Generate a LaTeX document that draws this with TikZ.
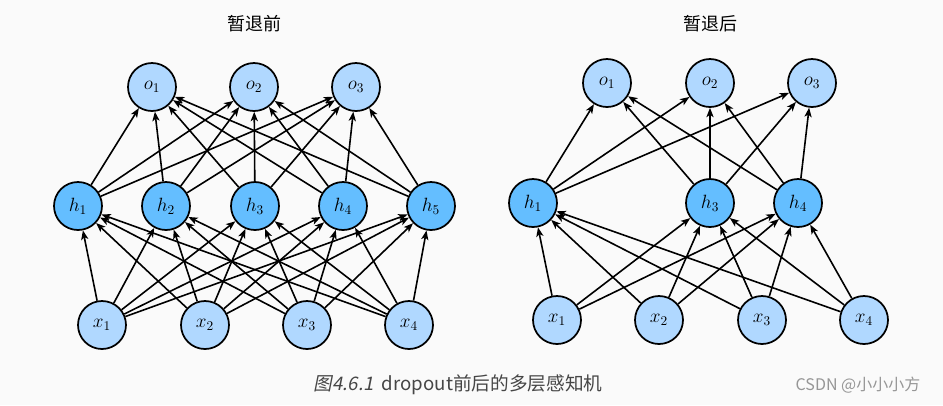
\documentclass[tikz,border=0pt]{standalone}
\usepackage{fontspec}
\usepackage{tikz}
\usetikzlibrary{arrows.meta}
\newfontfamily\cjk[AutoFakeSlant=0.2]{Noto Sans CJK SC}
\definecolor{bgcol}{RGB}{250,250,250}
\definecolor{iocol}{RGB}{176,216,255}
\definecolor{hidcol}{RGB}{100,190,255}
\definecolor{capcol}{RGB}{70,70,70}
\definecolor{markcol}{RGB}{150,150,150}

\begin{document}
\begin{tikzpicture}[x=0.75pt,y=0.75pt,yscale=-1,xscale=1,
  neuron/.style={circle,draw,line width=1.3pt,minimum size=36pt,inner sep=0pt,font=\Large},
  ioneuron/.style={neuron,fill=iocol},
  hidneuron/.style={neuron,fill=hidcol},
  conn/.style={line width=1.2pt,-{Stealth[length=7pt,width=5.4pt,inset=1.8pt]}},
  title/.style={font=\cjk\fontsize{13.5}{15}\selectfont}]
%set diagram size 943 x 405
\fill[bgcol] (0,0) rectangle (943,405);

% Text Node
\draw (254,24) node [title] (ltitle) {暂退前};
% Text Node
\draw (710,24) node [title] (rtitle) {暂退后};

%Shape: Circle, left net
\node [ioneuron] (lo1) at (152,87) {$o_1$};
\node [ioneuron] (lo2) at (254,87) {$o_2$};
\node [ioneuron] (lo3) at (356,87) {$o_3$};
\node [hidneuron] (lh1) at (78,206) {$h_1$};
\node [hidneuron] (lh2) at (166,206) {$h_2$};
\node [hidneuron] (lh3) at (255,206) {$h_3$};
\node [hidneuron] (lh4) at (343,206) {$h_4$};
\node [hidneuron] (lh5) at (431,206) {$h_5$};
\node [ioneuron] (lx1) at (102,325) {$x_1$};
\node [ioneuron] (lx2) at (205,325) {$x_2$};
\node [ioneuron] (lx3) at (307,325) {$x_3$};
\node [ioneuron] (lx4) at (409,325) {$x_4$};

%Straight Lines, left inputs to hidden
\draw [conn] (lx1) -- (lh1);
\draw [conn] (lx1) -- (lh2);
\draw [conn] (lx1) -- (lh3);
\draw [conn] (lx1) -- (lh4);
\draw [conn] (lx1) -- (lh5);
\draw [conn] (lx2) -- (lh1);
\draw [conn] (lx2) -- (lh2);
\draw [conn] (lx2) -- (lh3);
\draw [conn] (lx2) -- (lh4);
\draw [conn] (lx2) -- (lh5);
\draw [conn] (lx3) -- (lh1);
\draw [conn] (lx3) -- (lh2);
\draw [conn] (lx3) -- (lh3);
\draw [conn] (lx3) -- (lh4);
\draw [conn] (lx3) -- (lh5);
\draw [conn] (lx4) -- (lh1);
\draw [conn] (lx4) -- (lh2);
\draw [conn] (lx4) -- (lh3);
\draw [conn] (lx4) -- (lh4);
\draw [conn] (lx4) -- (lh5);
%Straight Lines, left hidden to outputs
\draw [conn] (lh1) -- (lo1);
\draw [conn] (lh1) -- (lo2);
\draw [conn] (lh1) -- (lo3);
\draw [conn] (lh2) -- (lo1);
\draw [conn] (lh2) -- (lo2);
\draw [conn] (lh2) -- (lo3);
\draw [conn] (lh3) -- (lo1);
\draw [conn] (lh3) -- (lo2);
\draw [conn] (lh3) -- (lo3);
\draw [conn] (lh4) -- (lo1);
\draw [conn] (lh4) -- (lo2);
\draw [conn] (lh4) -- (lo3);
\draw [conn] (lh5) -- (lo1);
\draw [conn] (lh5) -- (lo2);
\draw [conn] (lh5) -- (lo3);

%Shape: Circle, right net
\node [ioneuron] (ro1) at (607,83) {$o_1$};
\node [ioneuron] (ro2) at (710,83) {$o_2$};
\node [ioneuron] (ro3) at (812,83) {$o_3$};
\node [hidneuron] (rh1) at (533,203) {$h_1$};
\node [hidneuron] (rh3) at (710,203) {$h_3$};
\node [hidneuron] (rh4) at (798,203) {$h_4$};
\node [ioneuron] (rx1) at (557,320) {$x_1$};
\node [ioneuron] (rx2) at (659,320) {$x_2$};
\node [ioneuron] (rx3) at (762,320) {$x_3$};
\node [ioneuron] (rx4) at (864,320) {$x_4$};

%Straight Lines, right inputs to hidden
\draw [conn] (rx1) -- (rh1);
\draw [conn] (rx1) -- (rh3);
\draw [conn] (rx1) -- (rh4);
\draw [conn] (rx2) -- (rh1);
\draw [conn] (rx2) -- (rh3);
\draw [conn] (rx2) -- (rh4);
\draw [conn] (rx3) -- (rh1);
\draw [conn] (rx3) -- (rh3);
\draw [conn] (rx3) -- (rh4);
\draw [conn] (rx4) -- (rh1);
\draw [conn] (rx4) -- (rh3);
\draw [conn] (rx4) -- (rh4);
%Straight Lines, right hidden to outputs
\draw [conn] (rh1) -- (ro1);
\draw [conn] (rh1) -- (ro2);
\draw [conn] (rh1) -- (ro3);
\draw [conn] (rh3) -- (ro1);
\draw [conn] (rh3) -- (ro2);
\draw [conn] (rh3) -- (ro3);
\draw [conn] (rh4) -- (ro1);
\draw [conn] (rh4) -- (ro2);
\draw [conn] (rh4) -- (ro3);

% Text Node
\draw (458,385) node [font=\cjk\fontsize{14}{16}\selectfont,text=capcol] (caption) {{\itshape 图4.6.1}\ \ dropout前后的多层感知机};
% Text Node
\draw (858,385) node [font=\cjk\fontsize{12}{14}\selectfont,text=markcol] (mark) {CSDN @小小小方};

\end{tikzpicture}
\end{document}
